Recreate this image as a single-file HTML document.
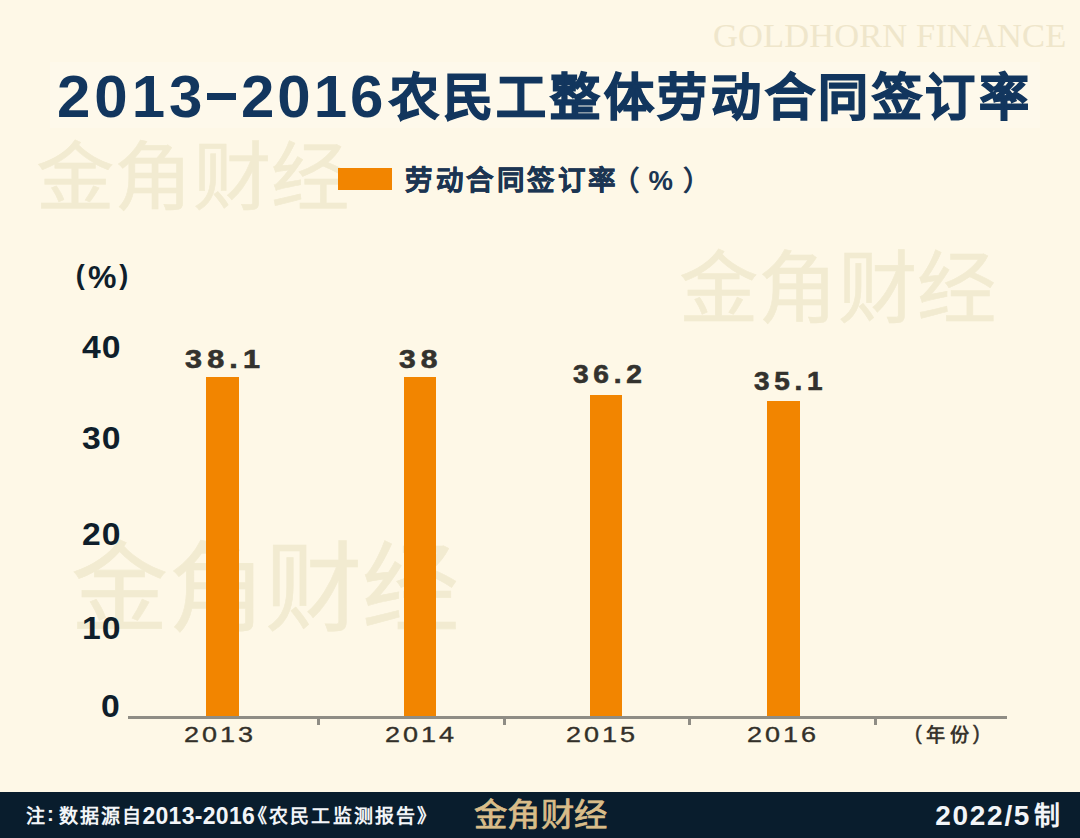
<!DOCTYPE html>
<html lang="zh-CN">
<head>
<meta charset="utf-8">
<style>
html,body{margin:0;padding:0;}
body{width:1080px;height:838px;position:relative;overflow:hidden;background:#FEF8E7;font-family:"Liberation Sans",sans-serif;}
.a{position:absolute;white-space:nowrap;line-height:1;transform-origin:0 0;}
.wm{font-family:"Liberation Serif",serif;font-weight:400;color:#F2EBD1;-webkit-text-stroke:0.6px #F2EBD1;}
#titlebox{position:absolute;left:50px;top:62px;width:990px;height:66px;background:#FEF9EB;}
.tt{font-size:60px;font-weight:700;color:#12365E;}
.bar{position:absolute;background:#F28500;}
.yl{font-weight:700;color:#0F1E2B;font-size:31.5px;letter-spacing:1px;transform:scaleX(1.07);}
.dl{font-weight:700;color:#33322E;font-size:25px;letter-spacing:4.2px;transform:scaleX(1.2);-webkit-text-stroke:0.6px #33322E;}
.xl{color:#333029;font-size:22.5px;letter-spacing:2.5px;transform:scaleX(1.2);-webkit-text-stroke:0.35px #333029;}
.tk{position:absolute;top:719px;width:3px;height:6px;background:#8F8D85;}
#footer{position:absolute;left:0;top:792px;width:1080px;height:46px;background:#091D2D;}
.ft{font-size:20.5px;font-weight:700;color:#F2F5F8;}
</style>
</head>
<body>
<div id="titlebox"></div>
<div class="a wm" style="left:713px;top:18px;font-size:34.5px;font-weight:400;color:#EFE6CB;letter-spacing:0.1px;-webkit-text-stroke:0;">GOLDHORN FINANCE</div>
<div class="a wm" style="left:36.4px;top:140.7px;font-size:78px;transform:scale(1.005,0.964);">金角财经</div>
<div class="a wm" style="left:678.7px;top:251px;font-size:79px;transform:scale(1.004,1);">金角财经</div>
<div class="a wm" style="left:71.4px;top:542.4px;font-size:96px;transform:scale(1.012,1.018);">金角财经</div>

<div class="a tt" style="left:57px;top:67px;letter-spacing:4px;">2013</div>
<div class="a" style="left:207px;top:93px;width:29px;height:7px;background:#12365E;"></div>
<div class="a tt" style="left:241px;top:67px;letter-spacing:3px;">2016</div>
<div class="a" style="left:389px;top:73px;font-size:50px;font-weight:700;color:#12365E;letter-spacing:3.65px;-webkit-text-stroke:1.4px #12365E;">农民工整体劳动合同签订率</div>

<div class="a" style="left:338px;top:168px;width:54px;height:22px;background:#F28500;"></div>
<div class="a" style="left:405px;top:167px;font-size:27.5px;font-weight:700;color:#1B3552;letter-spacing:3.5px;-webkit-text-stroke:0.5px #1B3552;">劳动合同签订率</div>
<div class="a" style="left:612px;top:167px;font-size:27.5px;font-weight:700;color:#1B3552;">（</div>
<div class="a" style="left:648.6px;top:167px;font-size:27.5px;font-weight:700;color:#1B3552;">%</div>
<div class="a" style="left:683px;top:167px;font-size:27.5px;font-weight:700;color:#1B3552;">）</div>

<div class="a" style="left:75.7px;top:262px;font-size:27px;font-weight:700;color:#0F1E2B;">(</div>
<div class="a" style="left:88px;top:261.4px;font-size:32px;font-weight:700;color:#0F1E2B;">%</div>
<div class="a" style="left:119.3px;top:262px;font-size:27px;font-weight:700;color:#0F1E2B;">)</div>

<div class="a yl" style="left:82.4px;top:332px;">40</div>
<div class="a yl" style="left:82.4px;top:423.4px;">30</div>
<div class="a yl" style="left:82.4px;top:518.6px;">20</div>
<div class="a yl" style="left:82.4px;top:613.4px;">10</div>
<div class="a yl" style="left:101.2px;top:691px;">0</div>

<div class="bar" style="left:206px;top:377px;width:33px;height:340px;"></div>
<div class="bar" style="left:404px;top:377px;width:32px;height:340px;"></div>
<div class="bar" style="left:590px;top:395px;width:32px;height:322px;"></div>
<div class="bar" style="left:767px;top:401px;width:33px;height:316px;"></div>

<div class="a" style="left:128px;top:716px;width:879px;height:3px;background:#8F8D85;"></div>
<div class="tk" style="left:317px;"></div>
<div class="tk" style="left:503px;"></div>
<div class="tk" style="left:688px;"></div>
<div class="tk" style="left:874px;"></div>

<div class="a dl" style="left:185px;top:347px;transform:scaleX(1.223);">38.1</div>
<div class="a dl" style="left:399px;top:347px;">38</div>
<div class="a dl" style="left:573px;top:362px;transform:scaleX(1.125);">36.2</div>
<div class="a dl" style="left:754px;top:369px;transform:scaleX(1.117);">35.1</div>

<div class="a xl" style="left:184px;top:724px;">2013</div>
<div class="a xl" style="left:385px;top:724px;">2014</div>
<div class="a xl" style="left:566px;top:724px;">2015</div>
<div class="a xl" style="left:747px;top:724px;">2016</div>
<div class="a" style="left:915px;top:723px;font-size:20px;color:#38342D;-webkit-text-stroke:0.4px #38342D;">(</div>
<div class="a" style="left:926.3px;top:725.5px;font-size:19.2px;font-weight:700;color:#38342D;letter-spacing:4.6px;">年份</div>
<div class="a" style="left:973px;top:723px;font-size:20px;color:#38342D;-webkit-text-stroke:0.4px #38342D;">)</div>

<div id="footer"></div>
<div class="a ft" style="left:25.5px;top:807px;font-size:19px;">注</div>
<div class="a ft" style="left:47px;top:804.3px;">:</div>
<div class="a ft" style="left:58.9px;top:807px;font-size:19px;letter-spacing:1.9px;">数据源自</div>
<div class="a ft" style="left:142.4px;top:805.3px;font-size:23px;letter-spacing:0.3px;">2013-2016</div>
<div class="a ft" style="left:247.9px;top:807px;font-size:19px;letter-spacing:2.2px;">《农民工监测报告》</div>
<div class="a wm" style="left:473.8px;top:800.2px;font-size:34px;font-weight:400;color:#D9BD89;-webkit-text-stroke:0.8px #D9BD89;transform:scale(0.981,0.924);">金角财经</div>
<div class="a" style="left:935.3px;top:802.4px;font-size:28px;font-weight:700;color:#F2F5F8;letter-spacing:1.7px;">2022/5</div>
<div class="a" style="left:1033.8px;top:803.4px;font-size:26px;font-weight:700;color:#F2F5F8;">制</div>
</body>
</html>
